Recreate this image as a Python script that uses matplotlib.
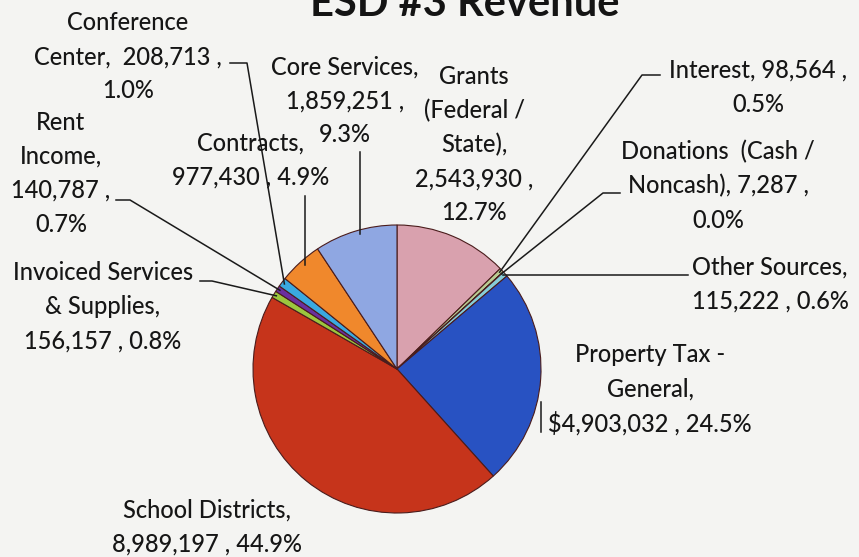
import numpy as np
import matplotlib
matplotlib.use("Agg")
import matplotlib.pyplot as plt

# revenue sources, clockwise from 12 o'clock
sources = ["Grants\n(Federal /\nState),", "Interest,", "Donations  (Cash /\nNoncash),",
           "Other Sources,", "Property Tax -\nGeneral,", "School Districts,",
           "Invoiced Services\n& Supplies,", "Rent\nIncome,", "Conference\nCenter,",
           "Contracts,", "Core Services,"]
amounts = [2543930, 98564, 7287, 115222, 4903032, 8989197,
           156157, 140787, 208713, 977430, 1859251]
colors = ["#d9a1ae", "#b9cc92", "#a184c0", "#86cdd8", "#2852c2", "#c6341b",
          "#9cc63e", "#6a2f9f", "#3aa9e0", "#f0882c", "#8fa7e2"]

# how each label breaks between name, amount and share
label_fmt = ["{n}\n{v} ,\n{p}", "{n} {v} ,\n{p}", "{n} {v} ,\n{p}", "{n}\n{v} , {p}",
             "{n}\n${v} , {p}", "{n}\n{v} , {p}", "{n}\n{v} , {p}", "{n}\n{v} ,\n{p}",
             "{n}  {v} ,\n{p}", "{n}\n{v} , {p}", "{n}\n{v} ,\n{p}"]
# label centre x and first line y (pixels from top)
label_pos = [(474, 77), (758, 70), (718, 152), (770, 267), (650, 355), (207, 510),
             (103, 273), (61, 122), (128, 23), (251, 143), (345, 67)]

W, H = 859, 557
fig = plt.figure(figsize=(W / 100, H / 100), dpi=100)
fig.patch.set_facecolor("#f4f4f2")
ax = fig.add_axes([0, 0, 1, 1])
ax.set_facecolor("#f4f4f2")

cx, cy, r = 397, H - 369, 144
wedges, _ = ax.pie(amounts, colors=colors, startangle=90, counterclock=False,
                   center=(cx, cy), radius=r, frame=True,
                   wedgeprops=dict(edgecolor="#4a1c1c", linewidth=0.8))
ax.set_xlim(0, W)
ax.set_ylim(0, H)
ax.set_aspect("auto")
ax.axis("off")

total = sum(amounts)
font = ["Lato", "DejaVu Sans"]
for name, val, fmt, (lx, ly) in zip(sources, amounts, label_fmt, label_pos):
    txt = fmt.format(n=name, v=f"{val:,}", p=f"{val / total:.1%}")
    for i, line in enumerate(txt.split("\n")):
        ax.text(lx, H - (ly + i * 34), line, ha="center", va="center",
                fontsize=17, fontweight="medium", color="#161616", family=font)


def edge_point(k, frac=0.98):
    w = wedges[k]
    a = np.deg2rad((w.theta1 + w.theta2) / 2)
    return cx + frac * r * np.cos(a), cy + frac * r * np.sin(a)


# leader lines: label anchor points then the slice edge
leaders = {
    1: [(660, 75), (642, 75)],
    2: [(620, 193), (603, 193)],
    3: [(688, 275)],
    6: [(200, 281), (212, 281)],
    7: [(116, 200), (130, 200)],
    8: [(230, 63), (247, 63)],
    9: [(305, 196)],
    10: [(360, 152)],
}
for k, pts in leaders.items():
    ex, ey = edge_point(k)
    xs = [p[0] for p in pts] + [ex]
    ys = [H - p[1] for p in pts] + [ey]
    if k in (9, 10):
        xs[-1] = xs[0]
    if k == 3:
        ys[-1] = ys[0]
    ax.plot(xs, ys, color="#1a1a1a", lw=1.1)

ax.plot([541, 541], [H - 402, H - 432], color="#1a1a1a", lw=1.1)

ax.text(465, H - 16, "ESD #3 Revenue", ha="center", va="baseline",
        fontsize=30, fontweight="bold", color="#141414", family=font)

fig.savefig("out.png", dpi=100, facecolor=fig.get_facecolor())
